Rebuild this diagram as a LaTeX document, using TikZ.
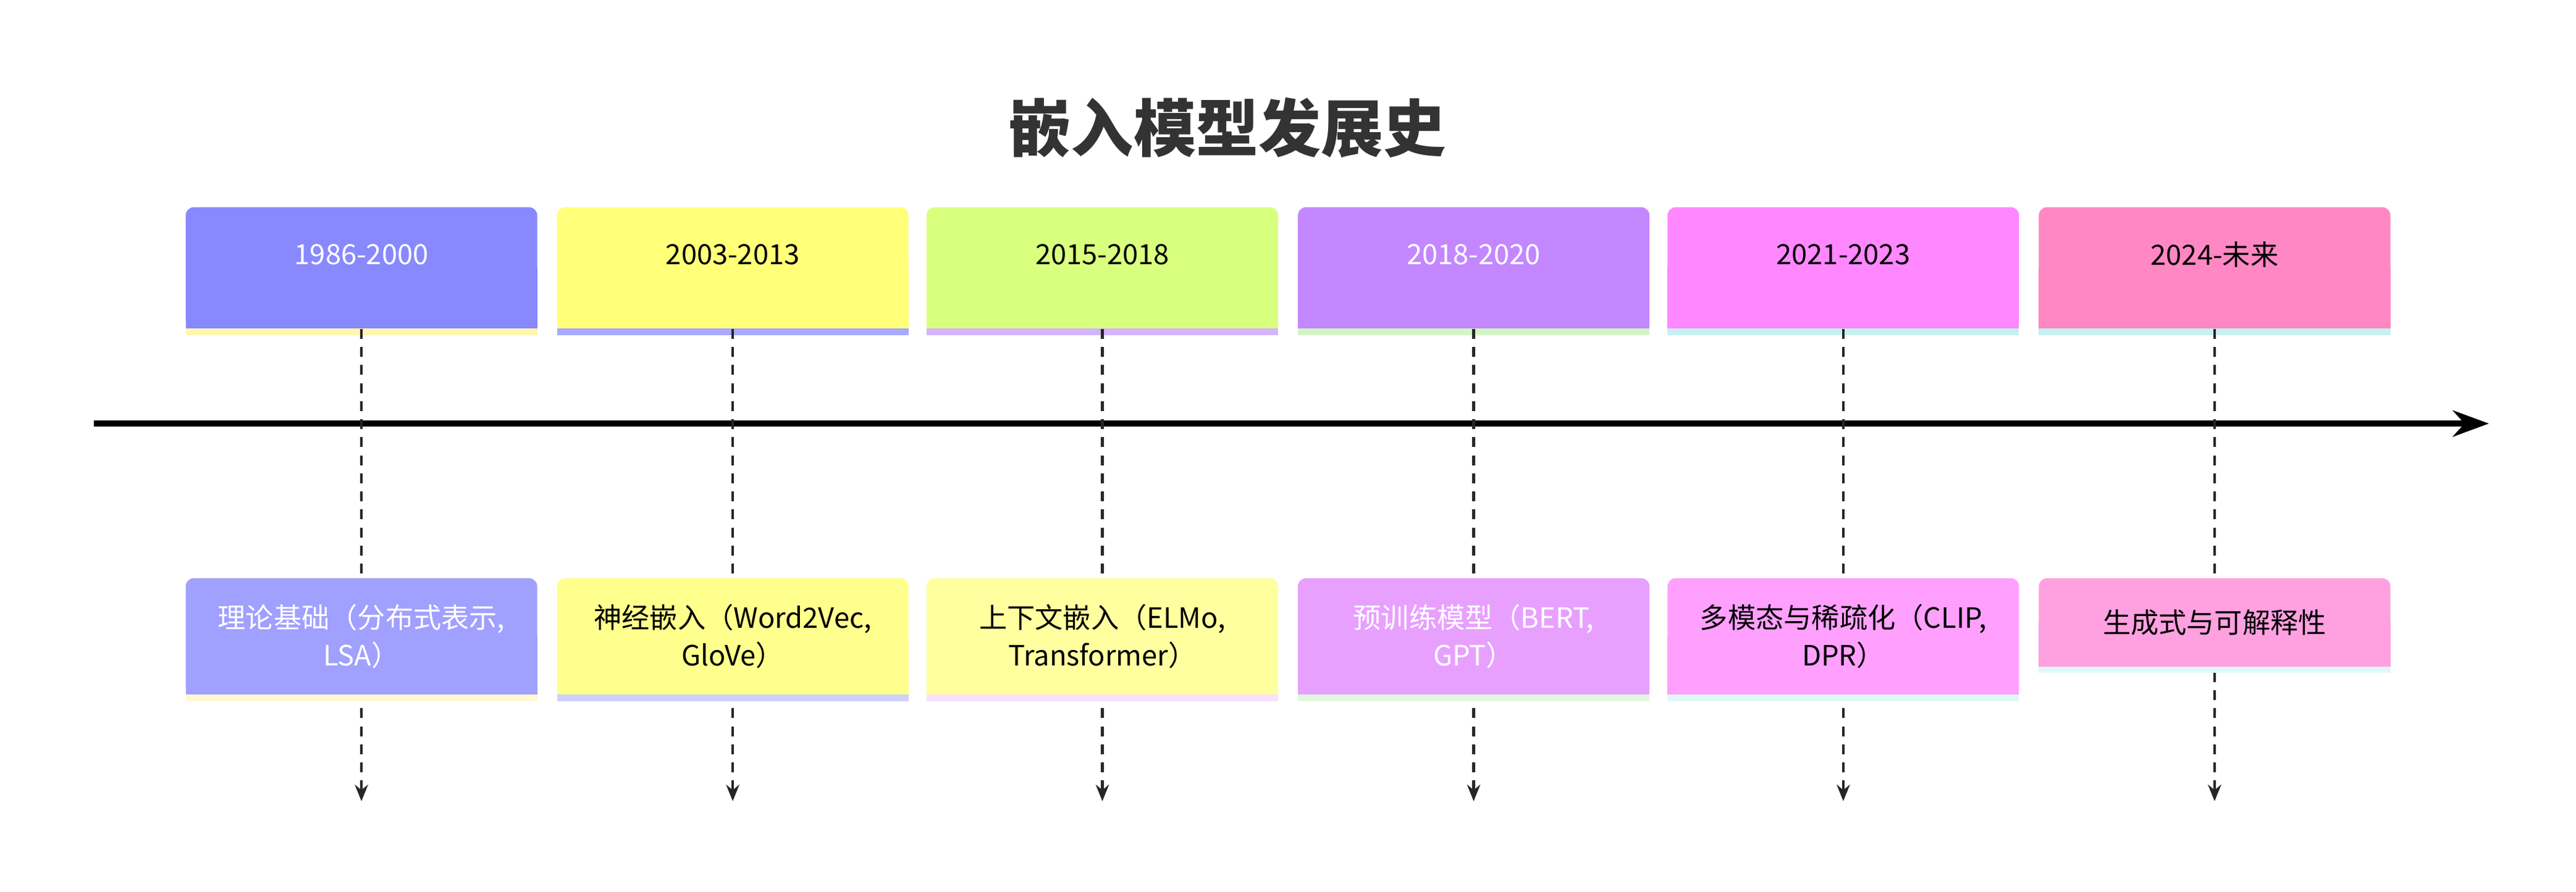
\documentclass[tikz,border=0pt]{standalone}
\usepackage{fontspec}
\setmainfont{Noto Sans CJK SC}
\usetikzlibrary{arrows.meta}
\definecolor{pa}{HTML}{8888FF}\definecolor{pb}{HTML}{FFFF78}\definecolor{pc}{HTML}{D9FF7F}
\definecolor{pd}{HTML}{C387FF}\definecolor{pe}{HTML}{FF87FF}\definecolor{pf}{HTML}{FF87C3}
\definecolor{ea}{HTML}{A0A0FF}\definecolor{eb}{HTML}{FFFF8E}\definecolor{ec}{HTML}{FFFFA0}
\definecolor{ed}{HTML}{E8A0FF}\definecolor{ee}{HTML}{FFA0FF}\definecolor{ef}{HTML}{FFA0E0}
\definecolor{sa}{HTML}{FFF6B0}\definecolor{sb}{HTML}{A8A8FF}\definecolor{sc}{HTML}{D2B4FF}
\definecolor{sd}{HTML}{D2F5C8}\definecolor{se}{HTML}{C8F0F0}\definecolor{sf}{HTML}{C8F0F0}
\definecolor{ta}{HTML}{FFF8D0}\definecolor{tb}{HTML}{D0D0FF}\definecolor{tc}{HTML}{F8E0FF}
\definecolor{td}{HTML}{E0F8E0}\definecolor{te}{HTML}{E0F8F8}\definecolor{tf}{HTML}{E0F8F8}
\begin{document}
\begin{tikzpicture}[x=1pt,y=-1pt,
  box/.style={minimum width=214pt,inner sep=0pt,rounded corners=5pt},
  lbl/.style={align=center,text width=200pt,font=\fontsize{17}{23}\selectfont},
  conn/.style={draw=black!85,line width=1.6pt,dash pattern=on 6pt off 5pt,-{Stealth[length=10pt,width=8pt]}}]
\useasboundingbox (0,0) rectangle (1568,543);
\node[font=\bfseries\fontsize{38}{42}\selectfont,text=black!80] (title) at (747,78) {嵌入模型发展史};
\draw[line width=3.5pt,-{Stealth[length=22pt,width=16pt]}] (57,258) -- (1515,258) coordinate (axend);
\foreach \i/\x/\l/\L/\tc/\ev in {
 a/220/1986-2000/{理论基础（分布式表示,\\LSA）}/white/71,
 b/446/2003-2013/{神经嵌入（Word2Vec,\\GloVe）}/black/71,
 c/671/2015-2018/{上下文嵌入（ELMo,\\Transformer）}/black/71,
 d/897/2018-2020/{预训练模型（BERT,\\GPT）}/white/71,
 e/1122/2021-2023/{多模态与稀疏化（CLIP,\\DPR）}/black/71,
 f/1348/2024-未来/{生成式与可解释性}/black/54}{
  \coordinate (end\i) at (\x,488);
  \node[box,fill=p\i,minimum height=74pt,anchor=north] (p\i) at (\x,126) {};
  \fill[p\i] (\x-107,163) rectangle (\x+107,200);
  \node[lbl,text=\tc] (pl\i) at (\x,155) {\l};
  \fill[s\i] (\x-107,200) rectangle (\x+107,204);
  \draw[conn] (p\i.south) -- (end\i);
  \node[box,fill=e\i,minimum height=\ev pt,anchor=north] (e\i) at (\x,352) {};
  \fill[e\i] (\x-107,352+\ev/2) rectangle (\x+107,352+\ev);
  \node[lbl,text=\tc] (el\i) at (e\i) {\L};
  \fill[t\i] (\x-107,352+\ev) rectangle (\x+107,356+\ev);
}
\end{tikzpicture}
\end{document}
